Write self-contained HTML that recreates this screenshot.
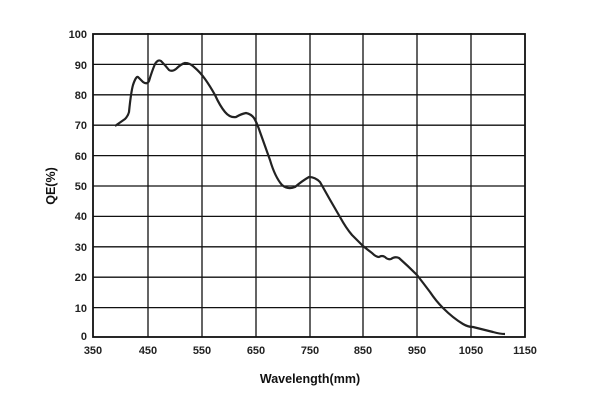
<!DOCTYPE html>
<html><head><style>body{margin:0;background:#fff}</style></head><body>
<svg width="600" height="400" xmlns="http://www.w3.org/2000/svg" font-family="Liberation Sans, sans-serif" font-weight="bold" font-size="11">
<g stroke="#111" stroke-width="1.3">
<line x1="148" y1="33" x2="148" y2="337"/><line x1="202" y1="33" x2="202" y2="337"/><line x1="256" y1="33" x2="256" y2="337"/><line x1="310" y1="33" x2="310" y2="337"/><line x1="363" y1="33" x2="363" y2="337"/><line x1="417" y1="33" x2="417" y2="337"/><line x1="471" y1="33" x2="471" y2="337"/>
<line x1="93" y1="64.4" x2="525" y2="64.4"/><line x1="93" y1="94.8" x2="525" y2="94.8"/><line x1="93" y1="125.2" x2="525" y2="125.2"/><line x1="93" y1="155.6" x2="525" y2="155.6"/><line x1="93" y1="186" x2="525" y2="186"/><line x1="93" y1="216.4" x2="525" y2="216.4"/><line x1="93" y1="246.8" x2="525" y2="246.8"/><line x1="93" y1="277.2" x2="525" y2="277.2"/><line x1="93" y1="307.6" x2="525" y2="307.6"/>
<rect x="93" y="34" width="432" height="303" fill="none" stroke-width="1.8"/>
</g>
<path fill="none" stroke="#222" stroke-width="2.2" stroke-linejoin="round" d="M115,126 L125,119 Q128,116 129,112 Q131,92 133,85 Q136,76 138,77 Q141,80 143,82 Q147,85 149,81 Q152,71 155,64 Q158,59 161,61 Q165,65 169,70 Q172,72 176,69 Q181,64 185,63 Q190,63 194,67 Q200,72 205,79 Q210,86 215,95 Q220,106 225,112 Q230,118 236,117 Q241,114 246,113 Q251,114 254,118 Q257,123 260,132 Q265,146 270,160 Q275,177 282,185 Q288,190 295,187 Q302,181 309,177 Q315,177 320,182 Q330,200 340,217 Q346,228 352,235 Q358,241 363,246 Q368,250 372,253 Q376,257 379,257 Q382,255 385,257 Q388,260 391,259 Q395,256 399,258 Q408,266 417,275 Q424,284 430,292 Q436,301 443,308 Q453,318 463,324 Q468,327 473,327 L493,332 Q500,334 505,334"/>
<g text-anchor="end" fill="#222"><text x="87" y="38">100</text><text x="87" y="69">90</text><text x="87" y="99">80</text><text x="87" y="129">70</text><text x="87" y="160">60</text><text x="87" y="190">50</text><text x="87" y="220">40</text><text x="87" y="251">30</text><text x="87" y="281">20</text><text x="87" y="312">10</text><text x="87" y="340">0</text></g>
<g text-anchor="middle" fill="#222"><text x="93" y="354">350</text><text x="148" y="354">450</text><text x="202" y="354">550</text><text x="256" y="354">650</text><text x="310" y="354">750</text><text x="363" y="354">850</text><text x="417" y="354">950</text><text x="471" y="354">1050</text><text x="525" y="354">1150</text></g>
<text x="310" y="383" text-anchor="middle" font-size="12.5" fill="#111">Wavelength(mm)</text>
<text transform="translate(55,186) rotate(-90)" text-anchor="middle" font-size="12.5" fill="#111">QE(%)</text>
</svg>
</body></html>
